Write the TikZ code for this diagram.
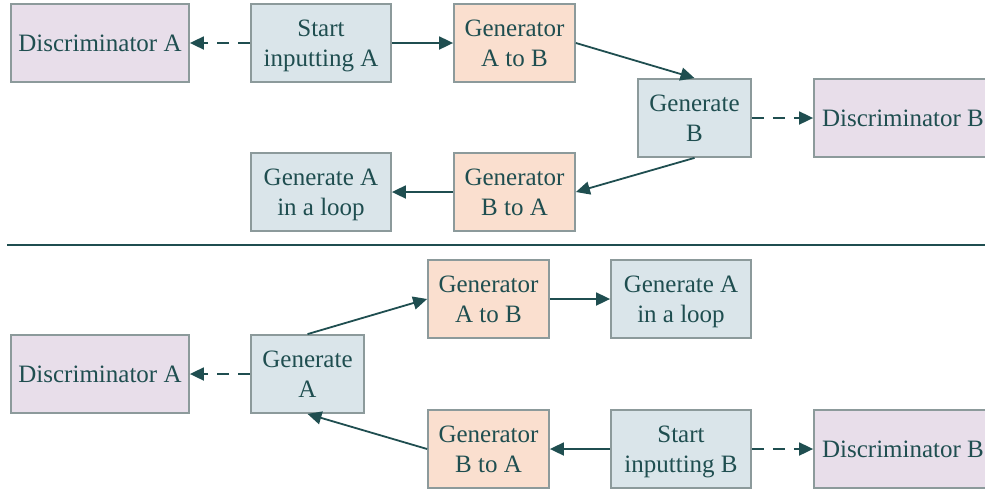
\documentclass[tikz,border=0pt]{standalone}
\usepackage{fontspec}
\setmainfont{Liberation Serif}
\usetikzlibrary{arrows.meta}
\definecolor{ink}{HTML}{1F4E50}
\definecolor{edge}{HTML}{8C9A9B}
\definecolor{pinkf}{HTML}{E8DEEA}
\definecolor{bluef}{HTML}{DAE5EA}
\definecolor{peachf}{HTML}{FADFCF}
\begin{document}
\begin{tikzpicture}[x=1pt,y=-1pt,
  box/.style={draw=edge, line width=1.8pt, rectangle, inner sep=0pt, align=center,
    text=ink, font=\fontsize{25}{30}\selectfont, minimum height=78pt},
  disc/.style={box, fill=pinkf, minimum width=178pt},
  wide/.style={box, fill=bluef, minimum width=140pt},
  narrow/.style={box, fill=bluef, minimum width=113pt},
  gen/.style={box, fill=peachf, minimum width=121pt},
  arr/.style={draw=ink, line width=1.8pt, -{Triangle[length=14pt,width=13pt]}},
  dsh/.style={arr, dash pattern=on 12pt off 9pt}]
\useasboundingbox (0,0) rectangle (985,488);
% top half
\node[disc]   (dA1)  at (100,43)    {Discriminator A};
\node[wide]   (sA)   at (321,43)    {Start\\\smash{inputting A}};
\node[gen]    (gAB1) at (514.5,43)  {Generator\\A to B};
\node[narrow] (gB)   at (694.5,118) {Generate\\B};
\node[disc]   (dB1)  at (903,118)   {Discriminator B};
\node[wide]   (lA1)  at (321,192)   {Generate A\\\smash{in a loop}};
\node[gen]    (gBA1) at (514.5,192) {Generator\\B to A};
\draw[dsh] (sA) -- (dA1);
\draw[arr] (sA) -- (gAB1);
\draw[arr] (gAB1.east) -- (gB.north);
\draw[dsh] (gB) -- (dB1);
\draw[arr] (gB.south) -- (gBA1.east);
\draw[arr] (gBA1) -- (lA1);
% separator
\coordinate (l1) at (7,245);
\coordinate (l2) at (985,245);
\draw[ink, line width=1.8pt] (l1) -- (l2);
% bottom half
\node[gen]    (gAB2) at (488.5,299) {Generator\\A to B};
\node[wide]   (lA2)  at (681,299)   {Generate A\\\smash{in a loop}};
\node[disc]   (dA2)  at (100,374)   {Discriminator A};
\node[narrow] (gA)   at (307.5,374) {Generate\\A};
\node[gen]    (gBA2) at (488.5,449) {Generator\\B to A};
\node[wide]   (sB)   at (681,449)   {Start\\\smash{inputting B}};
\node[disc]   (dB2)  at (903,449)   {Discriminator B};
\draw[arr] (gA.north) -- (gAB2.west);
\draw[arr] (gAB2) -- (lA2);
\draw[dsh] (gA) -- (dA2);
\draw[arr] (gBA2.west) -- (gA.south);
\draw[arr] (sB) -- (gBA2);
\draw[dsh] (sB) -- (dB2);
\end{tikzpicture}
\end{document}
